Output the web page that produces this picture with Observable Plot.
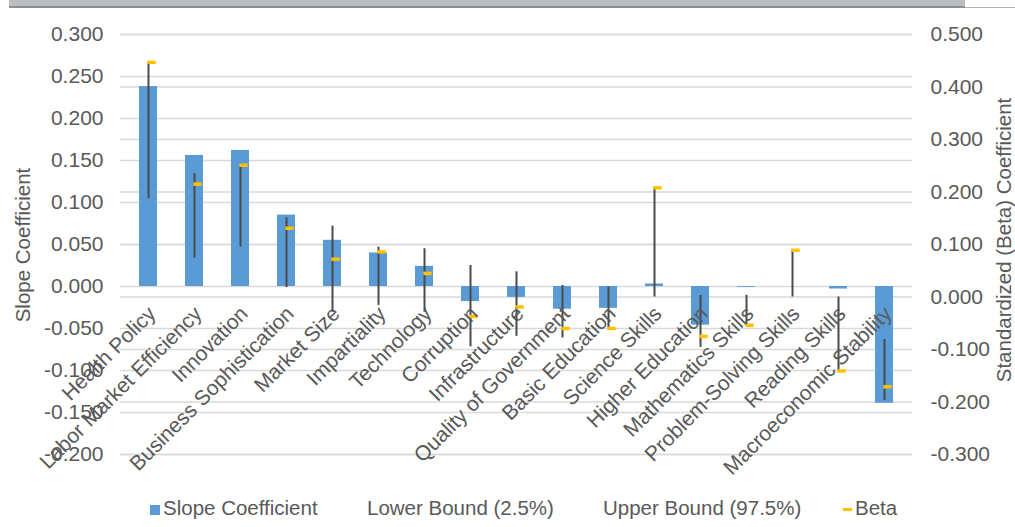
<!DOCTYPE html>
<html>
<head>
<meta charset="utf-8">
<script src="https://cdn.jsdelivr.net/npm/d3@7"></script>
<script src="https://cdn.jsdelivr.net/npm/@observablehq/plot@0.6"></script>
<style>
  html, body { margin: 0; padding: 0; background: #fff; overflow: hidden; }
  #wrap { position: relative; width: 1015px; height: 527px; font-family: "Liberation Sans", Arial, sans-serif; color: #595959; }
  #wrap svg { position: absolute; left: 0; top: 0; }
  .topbar { position: absolute; left: 9px; top: 0; width: 956px; height: 6px; background: #bcbdbf; border-bottom: 2px solid #8e8f91; }
  .topline { position: absolute; left: 965px; top: 7px; width: 50px; height: 1px; background: #b0b0b0; }
  .ytitle { position: absolute; font-size: 20.5px; white-space: nowrap; transform: translate(-50%, -50%) rotate(-90deg); }
  .legend { position: absolute; top: 497px; font-size: 20.5px; white-space: nowrap; line-height: 22px; }
  .legend .sw { display: inline-block; vertical-align: middle; margin-right: 3px; }
</style>
</head>
<body>
<div id="wrap">
  <div class="topbar"></div>
  <div class="topline"></div>
</div>
<script>
// Categories, ordered as plotted
const categories = [
  "Health Policy", "Labor Market Efficiency", "Innovation", "Business Sophistication",
  "Market Size", "Impartiality", "Technology", "Corruption", "Infrastructure",
  "Quality of Government", "Basic Education", "Science Skills", "Higher Education",
  "Mathematics Skills", "Problem-Solving Skills", "Reading Skills", "Macroeconomic Stability"
];

// Slope coefficient (primary axis)
const slope = [0.238, 0.156, 0.162, 0.085, 0.055, 0.040, 0.024, -0.018, -0.013,
               -0.027, -0.026, 0.003, -0.046, -0.001, 0.000, -0.003, -0.139];

// Confidence bounds and standardized beta (secondary axis)
const lowerBound = [0.187, 0.074, 0.095, 0.018, -0.029, -0.016, -0.029, -0.095, -0.075,
                    -0.078, -0.057, 0.000, -0.096, -0.054, 0.000, -0.141, -0.197];
const upperBound = [0.448, 0.235, 0.251, 0.151, 0.135, 0.095, 0.092, 0.060, 0.048,
                    0.022, 0.019, 0.209, 0.003, 0.003, 0.089, 0.000, -0.081];
const beta = [0.447, 0.215, 0.251, 0.131, 0.072, 0.086, 0.045, -0.037, -0.019,
              -0.060, -0.060, 0.208, -0.075, -0.054, 0.089, -0.141, -0.171];

// Axis ticks
const leftTicks = [-0.2, -0.15, -0.1, -0.05, 0, 0.05, 0.1, 0.15, 0.2, 0.25, 0.3];
const rightTicks = [-0.3, -0.2, -0.1, 0, 0.1, 0.2, 0.3, 0.4, 0.5];

const leftDomain = [-0.2, 0.3];
const rightDomain = [-0.3, 0.5];
// map secondary-axis values onto the primary y scale
const toLeft = r => leftDomain[0] + (r - rightDomain[0]) * (leftDomain[1] - leftDomain[0]) / (rightDomain[1] - rightDomain[0]);
const toRight = l => rightDomain[0] + (l - leftDomain[0]) * (rightDomain[1] - rightDomain[0]) / (leftDomain[1] - leftDomain[0]);
const fmt = v => (Math.abs(v) < 1e-9 ? 0 : v).toFixed(3);

const rows = categories.map((category, i) => ({
  category,
  slope: slope[i],
  lower: lowerBound[i],
  upper: upperBound[i],
  beta: beta[i]
}));

const textColor = "#595959";
const gridColor = "#d9d9d9";
const bw = (792 / 17) * 0.4; // bar width within each band

const chart = Plot.plot({
  width: 1015,
  height: 490,
  marginTop: 34,
  marginBottom: 36,
  marginLeft: 120,
  marginRight: 103,
  style: { fontFamily: "'Liberation Sans', Arial, sans-serif", fontSize: "21px", color: textColor, background: "transparent" },
  x: { domain: categories, paddingInner: 0.6, paddingOuter: 0.3, axis: null },
  y: { domain: leftDomain, label: null },
  marks: [
    Plot.gridY(leftTicks, { stroke: gridColor, strokeOpacity: 1, strokeWidth: 1.4 }),
    Plot.gridY(rightTicks.map(toLeft), { stroke: gridColor, strokeOpacity: 1, strokeWidth: 1.4 }),
    Plot.barY(rows, { x: "category", y: "slope", fill: "#5b9bd5" }),
    // high-low line spanning the secondary-axis series
    Plot.ruleX(rows, {
      x: "category",
      y1: d => toLeft(Math.min(d.lower, d.upper, d.beta)),
      y2: d => toLeft(Math.max(d.lower, d.upper, d.beta)),
      stroke: "#4a4a4a",
      strokeWidth: 2
    }),
    Plot.tickY(rows, {
      x: "category",
      y: d => toLeft(d.beta),
      stroke: "#ffc000",
      strokeWidth: 3.5,
      insetLeft: bw / 2 - 1,
      insetRight: bw / 2 - 8
    }),
    Plot.axisY(leftTicks, { anchor: "left", tickSize: 0, tickPadding: 17, tickFormat: fmt, label: null, fill: textColor }),
    Plot.axisY(rightTicks.map(toLeft), { anchor: "right", tickSize: 0, tickPadding: 18, tickFormat: d => fmt(toRight(d)), label: null, fill: textColor }),
    Plot.text(categories, {
      x: d => d,
      y: () => 0,
      text: d => d,
      rotate: -45,
      textAnchor: "end",
      lineAnchor: "top",
      dx: -2,
      dy: 18,
      fill: textColor,
      fontSize: 21
    })
  ]
});

const wrap = document.getElementById("wrap");
wrap.insertBefore(chart, wrap.firstChild);

// axis titles
const t1 = document.createElement("div");
t1.className = "ytitle";
t1.style.left = "23px";
t1.style.top = "245px";
t1.textContent = "Slope Coefficient";
wrap.appendChild(t1);

const t2 = document.createElement("div");
t2.className = "ytitle";
t2.style.left = "1004px";
t2.style.top = "240px";
t2.textContent = "Standardized (Beta) Coefficient";
wrap.appendChild(t2);

// legend
const legendItems = [
  { label: "Slope Coefficient", left: 150, swatch: { w: 10, h: 10, color: "#5b9bd5" } },
  { label: "Lower Bound (2.5%)", left: 367, swatch: null },
  { label: "Upper Bound (97.5%)", left: 603, swatch: null },
  { label: "Beta", left: 843, swatch: { w: 9, h: 3, color: "#ffc000" } }
];
legendItems.forEach(item => {
  const el = document.createElement("div");
  el.className = "legend";
  el.style.left = item.left + "px";
  if (item.swatch) {
    const sw = document.createElement("span");
    sw.className = "sw";
    sw.style.width = item.swatch.w + "px";
    sw.style.height = item.swatch.h + "px";
    sw.style.background = item.swatch.color;
    el.appendChild(sw);
  }
  el.appendChild(document.createTextNode(item.label));
  wrap.appendChild(el);
});
</script>
</body>
</html>
